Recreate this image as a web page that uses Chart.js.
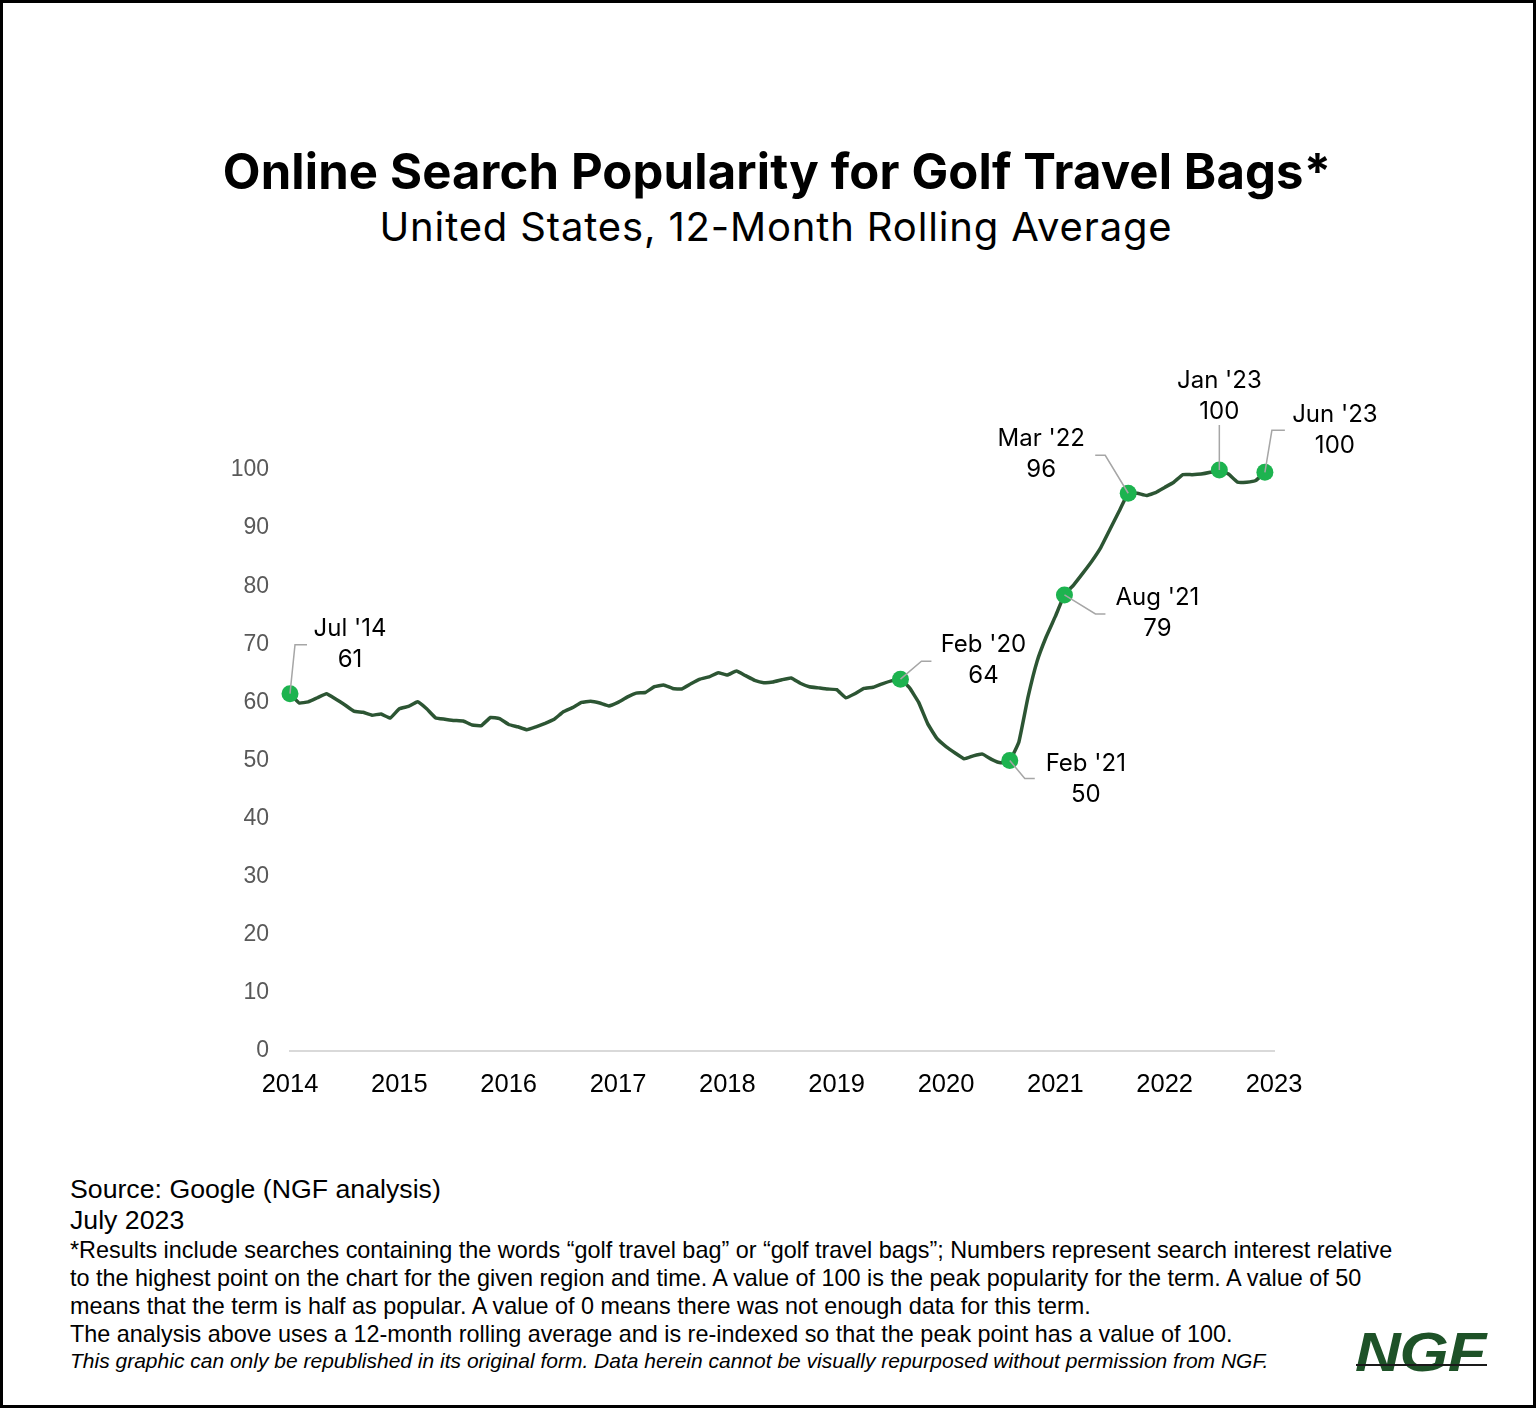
<!DOCTYPE html>
<html>
<head>
<meta charset="utf-8">
<script src="https://cdn.jsdelivr.net/npm/chart.js@4"></script>
<style>
  html, body { margin: 0; padding: 0; background: #fff; }
  #page {
    position: relative; width: 1536px; height: 1408px;
    box-sizing: border-box; border: 3px solid #000; background: #fff; overflow: hidden;
  }
  .t { position: absolute; white-space: nowrap; color: #000; }
  #title { left: 9px; width: 1530px; text-align: center; top: 139px; font: 700 49px Inter, "Noto Sans", sans-serif; letter-spacing: 0.15px; }
  #subtitle { left: 8px; width: 1530px; text-align: center; top: 199px; font: 400 40px Inter, "Noto Sans", sans-serif; letter-spacing: 0.85px; }
  .src { left: 67px; font: 400 26.7px "Liberation Sans", Arial, sans-serif; }
  .fn { left: 67px; font: 400 23.4px "Liberation Sans", Arial, sans-serif; }
  .it { left: 67px; font: italic 400 21px "Liberation Sans", Arial, sans-serif; }
  #logo { left: 1352px; top: 1316px; font: italic 900 56px "Liberation Sans", Arial, sans-serif; color: #1e5228; transform: scaleX(1.13); transform-origin: left top; letter-spacing: -1px; }
  #logoLine { position: absolute; left: 1353px; top: 1361px; width: 131px; height: 2px; background: #1a1a1a; }
  #wrap { position: absolute; left: 194px; top: 296px; width: 1230px; height: 810px; }
</style>
</head>
<body>
<div id="page">
  <div class="t" id="title">Online Search Popularity for Golf Travel Bags*</div>
  <div class="t" id="subtitle">United States, 12-Month Rolling Average</div>
  <div id="wrap"><canvas id="chart" width="1230" height="810"></canvas></div>
  <div class="t src" style="top:1171px">Source: Google (NGF analysis)</div>
  <div class="t src" style="top:1202px">July 2023</div>
  <div class="t fn" style="top:1234px">*Results include searches containing the words “golf travel bag” or “golf travel bags”; Numbers represent search interest relative</div>
  <div class="t fn" style="top:1262px">to the highest point on the chart for the given region and time. A value of 100 is the peak popularity for the term. A value of 50</div>
  <div class="t fn" style="top:1290px">means that the term is half as popular. A value of 0 means there was not enough data for this term.</div>
  <div class="t fn" style="top:1318px">The analysis above uses a 12-month rolling average and is re-indexed so that the peak point has a value of 100.</div>
  <div class="t it" style="top:1346px">This graphic can only be republished in its original form. Data herein cannot be visually repurposed without permission from NGF.</div>
  <div class="t" id="logo">NGF</div>
  <div id="logoLine"></div>
</div>
<script>
// monthly values, Jul 2014 .. Jun 2023 (12-month rolling avg, re-indexed)
const popularity = [
  61.5, 59.9, 60.1, 60.8, 61.5, 60.6, 59.6, 58.5, 58.3, 57.8, 58.0, 57.3,
  58.9, 59.3, 60.1, 58.9, 57.3, 57.1, 56.9, 56.8, 56.1, 56.0, 57.4, 57.2,
  56.2, 55.8, 55.3, 55.8, 56.4, 57.1, 58.4, 59.1, 60.0, 60.2, 59.9, 59.4,
  60.0, 60.9, 61.6, 61.7, 62.7, 63.0, 62.4, 62.3, 63.2, 64.0, 64.4, 65.1,
  64.7, 65.4, 64.6, 63.8, 63.4, 63.5, 63.9, 64.2, 63.3, 62.7, 62.5, 62.3,
  62.2, 60.8, 61.5, 62.4, 62.6, 63.2, 63.7, 64.0, 62.5, 60.0, 56.3, 53.8,
  52.4, 51.3, 50.3, 50.8, 51.1, 50.2, 49.6, 50.0, 53.2, 60.9, 67.1, 71.3,
  74.8, 78.5, 80.2, 82.2, 84.3, 86.7, 89.8, 92.9, 96.0, 96.0, 95.6, 96.1,
  97.0, 97.9, 99.2, 99.2, 99.3, 99.6, 100, 99.3, 97.9, 97.9, 98.2, 99.6
];
const firstYear = 2014;
const yearCount = 10;
const yTicks = [0, 10, 20, 30, 40, 50, 60, 70, 80, 90, 100];

// highlighted months
const markIdx = [0, 67, 79, 85, 92, 102, 107];
const markNames = ["Jul '14", "Feb '20", "Feb '21", "Aug '21", "Mar '22", "Jan '23", "Jun '23"];
const markValues = ["61", "64", "50", "79", "96", "100", "100"];

// leader line elbow / end and label centre, relative to the marker (px)
const leaderStyle = [
  { ex: 5, ey: -49, tx: 17, lx: 60, ly: -65 },
  { ex: 21, ey: -18, tx: 31, lx: 83, ly: -34 },
  { ex: 15, ey: 18, tx: 25, lx: 76, ly: 3 },
  { ex: 31, ey: 19, tx: 41, lx: 93, ly: 3 },
  { ex: -23, ey: -38, tx: -33, lx: -87, ly: -54 },
  { ex: 0, ey: -45, tx: 0, lx: 0, ly: -89 },
  { ex: 7, ey: -42, tx: 20, lx: 70, ly: -58 }
];

const leaders = {
  id: "leaders",
  afterDatasetsDraw(chart) {
    const { ctx, scales: { x, y } } = chart;
    ctx.save();
    markIdx.forEach((i, k) => {
      const px = x.getPixelForValue(i);
      const py = y.getPixelForValue(popularity[i]);
      const s = leaderStyle[k];
      ctx.strokeStyle = "#a6a6a6";
      ctx.lineWidth = 1.5;
      ctx.beginPath();
      ctx.moveTo(px, py);
      ctx.lineTo(px + s.ex, py + s.ey);
      ctx.lineTo(px + s.tx, py + s.ey);
      ctx.stroke();
      ctx.fillStyle = "#000";
      ctx.font = "400 24px Inter, 'Noto Sans', sans-serif";
      ctx.textAlign = "center";
      ctx.textBaseline = "middle";
      ctx.fillText(markNames[k], px + s.lx, py + s.ly);
      ctx.fillText(markValues[k], px + s.lx, py + s.ly + 31);
    });
    ctx.restore();
  }
};

new Chart(document.getElementById("chart"), {
  type: "line",
  data: {
    datasets: [{
      data: popularity.map((v, i) => ({ x: i, y: v })),
      borderColor: "#2c5533",
      borderWidth: 3.5,
      tension: 0.1,
      clip: false,
      pointRadius: c => markIdx.includes(c.dataIndex) ? 8.5 : 0,
      pointBackgroundColor: "#1db34f",
      pointBorderWidth: 0
    }]
  },
  options: {
    responsive: false,
    animation: false,
    layout: { padding: { top: 171, right: 153, left: 0, bottom: 0 } },
    plugins: { legend: { display: false }, tooltip: { enabled: false } },
    scales: {
      x: {
        type: "linear", min: 0, max: 108,
        afterFit: s => { s.height = 58; },
        afterBuildTicks: s => {
          s.ticks = Array.from({ length: yearCount }, (_, k) => ({ value: k * 12 }));
        },
        grid: { display: false, drawTicks: false },
        border: { display: true, color: "#d9d9d9", width: 2 },
        ticks: {
          padding: 19, color: "#000", maxRotation: 0,
          font: { family: "'Liberation Sans', Arial, sans-serif", size: 25.5 },
          callback: v => firstYear + v / 12
        }
      },
      y: {
        min: 0, max: 100,
        afterFit: s => { s.width = 93; },
        afterBuildTicks: s => { s.ticks = yTicks.map(v => ({ value: v })); },
        grid: { display: false, drawTicks: false },
        border: { display: false },
        ticks: {
          padding: 21, color: "#595959",
          font: { family: "'Liberation Sans', Arial, sans-serif", size: 23 }
        }
      }
    }
  },
  plugins: [leaders]
});
</script>
</body>
</html>
